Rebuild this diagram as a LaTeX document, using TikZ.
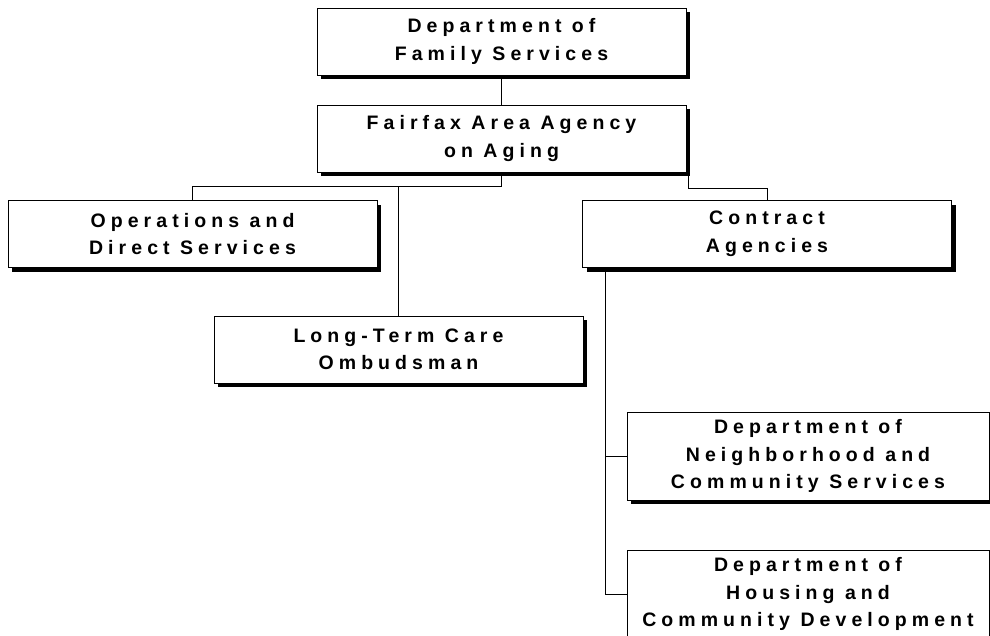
\documentclass[tikz,border=0pt]{standalone}
\usepackage{fontspec}
\usepackage{tikz}
\usetikzlibrary{shadows}
\newfontfamily\orgfont[LetterSpace=26]{Liberation Sans}

\begin{document}
\begin{tikzpicture}[x=1pt, y=-1pt,
    font={\orgfont\bfseries\fontsize{19.5}{27.5}\selectfont},
    unit/.style={rectangle, draw=black, line width=1pt, fill=white,
      align=center, inner sep=0pt, minimum width=369pt, minimum height=67pt,
      drop shadow={shadow xshift=4pt, shadow yshift=-4pt, fill=black, opacity=1}},
    tallunit/.style={unit, minimum width=362pt, minimum height=88pt},
    link/.style={line width=0.8pt, black},
  ]
    \useasboundingbox (0,0) rectangle (990,635);
    \clip (0,0) rectangle (990,635);

    % Top of the chart
    \node[unit] (dfs)  at (501.5, 41.5)  {Department of\\Family Services};
    \node[unit] (faaa) at (501.5, 138.5) {Fairfax Area Agency\\on Aging};

    \draw[link] (dfs) -- (faaa);

    % Second level
    \node[unit] (ops) at (192.5, 234)   {Operations and\\Direct Services};
    \node[unit] (ca)  at (767, 234)     {Contract\\Agencies};
    \node[unit] (ltc) at (398.5, 349.5) {Long-Term Care\\Ombudsman};

    \draw[link] (faaa.south) -- ++(0,14) -| (ops.north);
    \draw[link] (faaa.south) -- ++(0,14) -| (ltc.north);
    \draw[link] ([xshift=2pt]faaa.south east) -- ++(0,16) -| (ca.north);

    % Contract agencies
    \node[tallunit] (dncs) at (808, 456) {Department of\\Neighborhood and\\Community Services};
    \node[tallunit] (dhcd) at (808, 594) {Department of\\Housing and\\Community Development};

    \draw[link] ([xshift=23pt]ca.south west) |- (dncs.west);
    \draw[link] ([xshift=23pt]ca.south west) |- (dhcd.west);
\end{tikzpicture}
\end{document}
